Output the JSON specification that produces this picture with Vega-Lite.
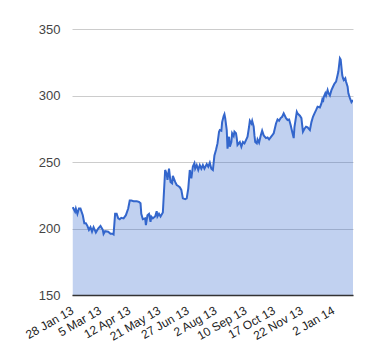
{
  "$schema": "https://vega.github.io/schema/vega-lite/v6.json",
  "autosize": "none",
  "width": 281,
  "height": 266,
  "padding": {"left": 72, "top": 29, "right": 27, "bottom": 65},
  "background": "white",
  "config": {"view": {"stroke": null}, "font": "Liberation Sans"},
  "data": {"values": [
    {"date": "2013-01-29", "price": 216},
    {"date": "2013-02-01", "price": 212.6},
    {"date": "2013-02-02", "price": 215},
    {"date": "2013-02-04", "price": 211},
    {"date": "2013-02-06", "price": 215},
    {"date": "2013-02-08", "price": 215},
    {"date": "2013-02-11", "price": 210},
    {"date": "2013-02-13", "price": 204},
    {"date": "2013-02-15", "price": 204},
    {"date": "2013-02-17", "price": 202},
    {"date": "2013-02-19", "price": 199},
    {"date": "2013-02-21", "price": 201},
    {"date": "2013-02-23", "price": 197.6},
    {"date": "2013-02-25", "price": 201},
    {"date": "2013-02-28", "price": 197},
    {"date": "2013-03-03", "price": 200},
    {"date": "2013-03-06", "price": 202},
    {"date": "2013-03-09", "price": 199},
    {"date": "2013-03-10", "price": 196},
    {"date": "2013-03-12", "price": 198},
    {"date": "2013-03-16", "price": 197.6},
    {"date": "2013-03-19", "price": 196},
    {"date": "2013-03-22", "price": 196},
    {"date": "2013-03-23", "price": 195.6},
    {"date": "2013-03-25", "price": 211},
    {"date": "2013-03-27", "price": 211},
    {"date": "2013-03-29", "price": 207.6},
    {"date": "2013-03-31", "price": 207},
    {"date": "2013-04-02", "price": 208},
    {"date": "2013-04-05", "price": 207.6},
    {"date": "2013-04-08", "price": 210},
    {"date": "2013-04-11", "price": 215},
    {"date": "2013-04-13", "price": 221},
    {"date": "2013-04-15", "price": 221},
    {"date": "2013-04-18", "price": 220.5},
    {"date": "2013-04-22", "price": 220.5},
    {"date": "2013-04-25", "price": 220},
    {"date": "2013-04-27", "price": 219},
    {"date": "2013-04-28", "price": 211},
    {"date": "2013-04-30", "price": 207},
    {"date": "2013-05-03", "price": 207.6},
    {"date": "2013-05-04", "price": 202.6},
    {"date": "2013-05-06", "price": 210},
    {"date": "2013-05-08", "price": 211},
    {"date": "2013-05-10", "price": 205},
    {"date": "2013-05-11", "price": 209},
    {"date": "2013-05-13", "price": 207.6},
    {"date": "2013-05-16", "price": 209},
    {"date": "2013-05-18", "price": 213},
    {"date": "2013-05-19", "price": 209},
    {"date": "2013-05-21", "price": 211},
    {"date": "2013-05-23", "price": 209},
    {"date": "2013-05-26", "price": 212},
    {"date": "2013-05-29", "price": 244},
    {"date": "2013-05-31", "price": 241},
    {"date": "2013-06-01", "price": 236.5},
    {"date": "2013-06-03", "price": 245},
    {"date": "2013-06-05", "price": 235},
    {"date": "2013-06-07", "price": 234},
    {"date": "2013-06-08", "price": 239.5},
    {"date": "2013-06-11", "price": 235},
    {"date": "2013-06-13", "price": 232.7},
    {"date": "2013-06-15", "price": 232},
    {"date": "2013-06-17", "price": 231},
    {"date": "2013-06-19", "price": 229},
    {"date": "2013-06-21", "price": 222.7},
    {"date": "2013-06-24", "price": 222},
    {"date": "2013-06-26", "price": 222.7},
    {"date": "2013-06-28", "price": 230},
    {"date": "2013-06-30", "price": 244},
    {"date": "2013-07-02", "price": 237.7},
    {"date": "2013-07-04", "price": 246.5},
    {"date": "2013-07-06", "price": 249},
    {"date": "2013-07-07", "price": 245},
    {"date": "2013-07-09", "price": 247.7},
    {"date": "2013-07-11", "price": 244},
    {"date": "2013-07-13", "price": 247.7},
    {"date": "2013-07-15", "price": 245},
    {"date": "2013-07-17", "price": 247.7},
    {"date": "2013-07-19", "price": 245},
    {"date": "2013-07-22", "price": 248.5},
    {"date": "2013-07-24", "price": 246.5},
    {"date": "2013-07-26", "price": 249.5},
    {"date": "2013-07-28", "price": 245},
    {"date": "2013-07-30", "price": 244},
    {"date": "2013-08-01", "price": 255},
    {"date": "2013-08-03", "price": 259},
    {"date": "2013-08-05", "price": 264},
    {"date": "2013-08-07", "price": 272.8},
    {"date": "2013-08-08", "price": 274},
    {"date": "2013-08-10", "price": 273.5},
    {"date": "2013-08-11", "price": 280},
    {"date": "2013-08-13", "price": 284.6},
    {"date": "2013-08-14", "price": 286},
    {"date": "2013-08-15", "price": 283},
    {"date": "2013-08-17", "price": 274},
    {"date": "2013-08-18", "price": 260},
    {"date": "2013-08-20", "price": 269},
    {"date": "2013-08-21", "price": 261.5},
    {"date": "2013-08-23", "price": 265},
    {"date": "2013-08-24", "price": 271.6},
    {"date": "2013-08-26", "price": 269.5},
    {"date": "2013-08-27", "price": 272.8},
    {"date": "2013-08-29", "price": 271.6},
    {"date": "2013-08-30", "price": 268},
    {"date": "2013-08-31", "price": 262.8},
    {"date": "2013-09-03", "price": 265},
    {"date": "2013-09-05", "price": 261.5},
    {"date": "2013-09-07", "price": 265},
    {"date": "2013-09-09", "price": 264},
    {"date": "2013-09-11", "price": 266.5},
    {"date": "2013-09-13", "price": 269},
    {"date": "2013-09-15", "price": 276.5},
    {"date": "2013-09-16", "price": 281},
    {"date": "2013-09-18", "price": 279},
    {"date": "2013-09-19", "price": 281},
    {"date": "2013-09-21", "price": 276.5},
    {"date": "2013-09-22", "price": 270},
    {"date": "2013-09-23", "price": 265},
    {"date": "2013-09-25", "price": 264},
    {"date": "2013-09-26", "price": 267},
    {"date": "2013-09-28", "price": 264.5},
    {"date": "2013-09-30", "price": 269.5},
    {"date": "2013-10-02", "price": 273.5},
    {"date": "2013-10-04", "price": 270},
    {"date": "2013-10-07", "price": 268},
    {"date": "2013-10-09", "price": 268.5},
    {"date": "2013-10-11", "price": 267},
    {"date": "2013-10-13", "price": 268.5},
    {"date": "2013-10-15", "price": 270},
    {"date": "2013-10-17", "price": 271.6},
    {"date": "2013-10-20", "price": 279},
    {"date": "2013-10-22", "price": 282},
    {"date": "2013-10-24", "price": 281},
    {"date": "2013-10-26", "price": 283},
    {"date": "2013-10-28", "price": 284},
    {"date": "2013-10-30", "price": 286.6},
    {"date": "2013-11-02", "price": 283},
    {"date": "2013-11-04", "price": 281.6},
    {"date": "2013-11-06", "price": 282},
    {"date": "2013-11-08", "price": 277.8},
    {"date": "2013-11-10", "price": 272.8},
    {"date": "2013-11-12", "price": 268},
    {"date": "2013-11-13", "price": 276.5},
    {"date": "2013-11-16", "price": 287.8},
    {"date": "2013-11-17", "price": 286.6},
    {"date": "2013-11-20", "price": 284.8},
    {"date": "2013-11-22", "price": 283},
    {"date": "2013-11-23", "price": 277.8},
    {"date": "2013-11-24", "price": 272.8},
    {"date": "2013-11-26", "price": 275},
    {"date": "2013-11-28", "price": 276.5},
    {"date": "2013-11-30", "price": 276},
    {"date": "2013-12-03", "price": 274},
    {"date": "2013-12-05", "price": 280},
    {"date": "2013-12-07", "price": 284},
    {"date": "2013-12-09", "price": 286.6},
    {"date": "2013-12-11", "price": 289},
    {"date": "2013-12-13", "price": 291.6},
    {"date": "2013-12-16", "price": 291},
    {"date": "2013-12-18", "price": 294},
    {"date": "2013-12-19", "price": 296.6},
    {"date": "2013-12-20", "price": 295},
    {"date": "2013-12-21", "price": 298.8},
    {"date": "2013-12-23", "price": 301.6},
    {"date": "2013-12-24", "price": 300},
    {"date": "2013-12-26", "price": 304},
    {"date": "2013-12-27", "price": 302},
    {"date": "2013-12-29", "price": 300},
    {"date": "2013-12-31", "price": 304},
    {"date": "2014-01-02", "price": 306.6},
    {"date": "2014-01-04", "price": 309},
    {"date": "2014-01-06", "price": 310.4},
    {"date": "2014-01-08", "price": 315.4},
    {"date": "2014-01-09", "price": 318},
    {"date": "2014-01-11", "price": 328},
    {"date": "2014-01-12", "price": 327},
    {"date": "2014-01-14", "price": 315.4},
    {"date": "2014-01-15", "price": 313},
    {"date": "2014-01-16", "price": 311.6},
    {"date": "2014-01-18", "price": 313},
    {"date": "2014-01-19", "price": 310.4},
    {"date": "2014-01-21", "price": 306.6},
    {"date": "2014-01-22", "price": 301.6},
    {"date": "2014-01-24", "price": 298},
    {"date": "2014-01-26", "price": 295},
    {"date": "2014-01-28", "price": 296.6}
  ]},
  "mark": {
    "type": "area",
    "color": "#3366cc",
    "fillOpacity": 0.3,
    "clip": true,
    "line": {"color": "#3366cc", "strokeWidth": 2}
  },
  "encoding": {
    "x": {
      "field": "date",
      "type": "temporal",
      "scale": {"domain": [{"year": 2013, "month": 1, "date": 28}, {"year": 2014, "month": 1, "date": 28}]},
      "axis": {
        "title": null,
        "values": [
          {"year": 2013, "month": 1, "date": 28},
          {"year": 2013, "month": 3, "date": 5},
          {"year": 2013, "month": 4, "date": 12},
          {"year": 2013, "month": 5, "date": 21},
          {"year": 2013, "month": 6, "date": 27},
          {"year": 2013, "month": 8, "date": 2},
          {"year": 2013, "month": 9, "date": 10},
          {"year": 2013, "month": 10, "date": 17},
          {"year": 2013, "month": 11, "date": 22},
          {"year": 2014, "month": 1, "date": 2}
        ],
        "format": "%-d %b %y",
        "labelAngle": -30,
        "labelAlign": "right",
        "labelBaseline": "middle",
        "labelPadding": 14,
        "labelFontSize": 12,
        "labelColor": "#222222",
        "labelFont": "Liberation Sans",
        "labelOverlap": false,
        "labelBound": false,
        "labelFlush": false,
        "ticks": false,
        "grid": false,
        "domainColor": "#333333",
        "domainWidth": 1.5,
        "zindex": 1
      }
    },
    "y": {
      "field": "price",
      "type": "quantitative",
      "scale": {"domain": [150, 350], "zero": false, "nice": false},
      "axis": {
        "title": null,
        "values": [150, 200, 250, 300, 350],
        "labelFontSize": 13,
        "labelColor": "#444444",
        "labelFont": "Liberation Sans",
        "labelPadding": 12,
        "ticks": false,
        "domain": false,
        "gridColor": "#cccccc",
        "gridWidth": 1
      }
    },
    "y2": {"datum": 150}
  }
}
